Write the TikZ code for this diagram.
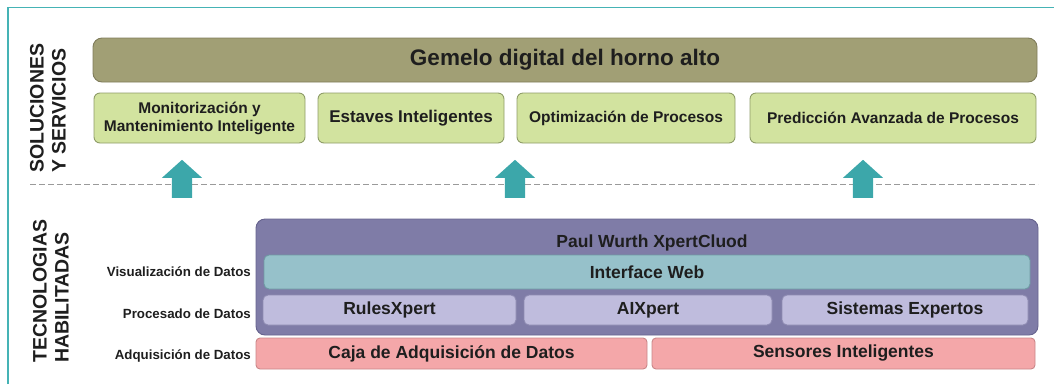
\documentclass[tikz,border=0pt]{standalone}
\usepackage{fontspec}
\setmainfont{Liberation Sans}
\usepackage{xcolor}
\usepackage{tikz}
\usetikzlibrary{arrows.meta,positioning,shapes.arrows}
\definecolor{cFrame}{HTML}{45B3B5}
\definecolor{cOlive}{HTML}{A19F75}
\definecolor{cOliveD}{HTML}{7F7C5B}
\definecolor{cGreen}{HTML}{D2E39F}
\definecolor{cGreenD}{HTML}{8E9C68}
\definecolor{cPurp}{HTML}{7F7CA7}
\definecolor{cPurpD}{HTML}{66638E}
\definecolor{cWeb}{HTML}{96C1CA}
\definecolor{cWebD}{HTML}{6F9AA4}
\definecolor{cLav}{HTML}{BFBCDD}
\definecolor{cLavD}{HTML}{8E8BB2}
\definecolor{cPink}{HTML}{F4A7A9}
\definecolor{cPinkD}{HTML}{C98688}
\definecolor{cArrow}{HTML}{3CA7AA}
\definecolor{cDash}{HTML}{9A9A9A}
\definecolor{cText}{HTML}{1E1E1E}
\tikzset{
  blk/.style    = {rectangle, rounded corners=6pt, line width=0.9pt,
                   align=center, inner sep=0pt, text=cText},
  topb/.style   = {blk, fill=cOlive, draw=cOliveD, rounded corners=9pt,
                   font=\fontsize{22.5}{26}\selectfont\bfseries},
  solb/.style   = {blk, fill=cGreen, draw=cGreenD,
                   font=\fontsize{15.5}{18}\selectfont\bfseries},
  cloudb/.style = {blk, fill=cPurp, draw=cPurpD, rounded corners=9pt},
  webb/.style   = {blk, fill=cWeb, draw=cWebD, rounded corners=5pt,
                   font=\fontsize{17.5}{20}\selectfont\bfseries},
  procb/.style  = {blk, fill=cLav, draw=cLavD, rounded corners=5pt,
                   font=\fontsize{17.5}{20}\selectfont\bfseries},
  acqb/.style   = {blk, fill=cPink, draw=cPinkD, rounded corners=4pt,
                   font=\fontsize{17.5}{20}\selectfont\bfseries},
  rowlab/.style = {anchor=east, inner sep=0pt, text=cText,
                   font=\fontsize{13.3}{16}\selectfont\bfseries},
  seclab/.style = {rotate=90, anchor=west, align=left, inner sep=0pt, text=cText,
                   font=\fontsize{19.5}{22}\selectfont\bfseries},
  uparr/.style  = {single arrow, shape border rotate=90, fill=cArrow, draw=none,
                   inner sep=10pt, minimum height=38pt,
                   single arrow head extend=10pt, single arrow tip angle=96,
                   anchor=tail},
}

\begin{document}
\begin{tikzpicture}[x=1pt,y=-1pt]
  \useasboundingbox (0,0) rectangle (1054,384);
  % ---- frame ----
  \draw[cFrame, line width=1.2pt] (8,384) |- (1054,7.5);

  % ---- soluciones y servicios ----
  \node[seclab] (lsol) at (48,173) {SOLUCIONES\\Y SERVICIOS};
  \node[topb, minimum width=944pt, minimum height=44pt] (gem) at (565,60)
    {Gemelo digital del horno alto};
  \node[solb, minimum width=211pt, minimum height=50pt] (mon) at (199.5,118)
    {Monitorización y\\Mantenimiento Inteligente};
  \node[solb, minimum width=186pt, minimum height=50pt,
        font=\fontsize{17}{20}\selectfont\bfseries] (est) at (411,118)
    {\raisebox{4pt}{Estaves Inteligentes}};
  \node[solb, minimum width=218pt, minimum height=50pt] (opt) at (626,118)
    {Optimización de Procesos};
  \node[solb, minimum width=286pt, minimum height=50pt] (pred) at (893,118)
    {Predicción Avanzada de Procesos};

  % ---- separator and arrows ----
  \coordinate (dl) at (30,184);
  \coordinate (dr) at (1038,184);
  \draw[cDash, line width=0.8pt, dash pattern=on 6pt off 3pt] (dl) -- (dr);
  \node[uparr] (a1) at (182,198) {};
  \node[uparr] (a2) at (515,198) {};
  \node[uparr] (a3) at (863,198) {};

  % ---- tecnologias habilitadas ----
  \node[seclab] (ltec) at (51,363) {TECNOLOGIAS\\HABILITADAS};
  \node[cloudb, minimum width=782pt, minimum height=116pt] (pwx) at (647,277) {};
  \node[text=cText, inner sep=0pt, font=\fontsize{17.5}{20}\selectfont\bfseries]
    (pwxt) at (652,243) {Paul Wurth XpertCluod};
  \node[webb, minimum width=766pt, minimum height=34pt] (web) at (647,272)
    {Interface Web};
  \node[procb, minimum width=253pt, minimum height=30pt] (rul) at (389.5,310)
    {RulesXpert};
  \node[procb, minimum width=248pt, minimum height=30pt] (aix) at (648,310)
    {AIXpert};
  \node[procb, minimum width=246pt, minimum height=30pt] (sis) at (905,310)
    {Sistemas Expertos};
  \node[acqb, minimum width=391pt, minimum height=31pt] (caj) at (451.5,353.5)
    {Caja de Adquisición de Datos};
  \node[acqb, minimum width=383pt, minimum height=31pt] (sen) at (843.5,353.5)
    {Sensores Inteligentes};

  % ---- row labels ----
  \node[rowlab] (lvis) at (251,272) {Visualización de Datos};
  \node[rowlab] (lpro) at (251,314) {Procesado de Datos};
  \node[rowlab] (ladq) at (251,356) {Adquisición de Datos};
\end{tikzpicture}
\end{document}
